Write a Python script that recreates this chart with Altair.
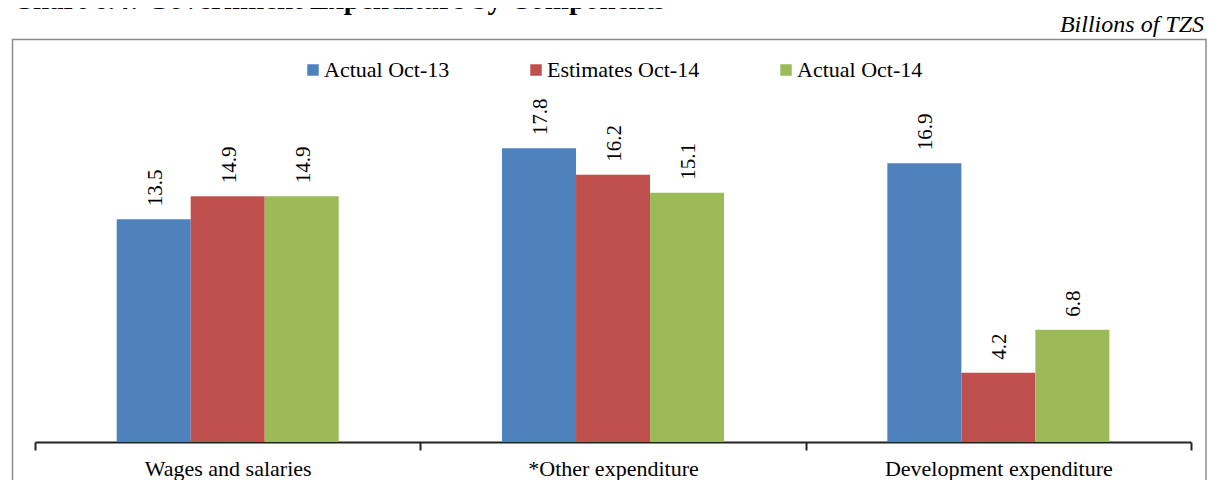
import altair as alt
import pandas as pd

categories = ["Wages and salaries", "*Other expenditure", "Development expenditure"]
series = ["Actual Oct-13", "Estimates Oct-14", "Actual Oct-14"]
actual_oct13 = [13.5, 17.8, 16.9]
estimates_oct14 = [14.9, 16.2, 4.2]
actual_oct14 = [14.9, 15.1, 6.8]
colors = ["#4F81BD", "#C0504D", "#9BBB59"]
legend_x = [267, 490, 740]

rows = []
for s, vals in zip(series, [actual_oct13, estimates_oct14, actual_oct14]):
    for c, v in zip(categories, vals):
        rows.append({"category": c, "series": s, "value": v})
df = pd.DataFrame(rows)

FONT = "Times New Roman, Liberation Serif, serif"

x_enc = alt.X(
    "category:N", sort=categories, title=None,
    scale=alt.Scale(domain=categories, paddingInner=0, paddingOuter=0),
    axis=alt.Axis(labelAngle=0, labelFont=FONT, labelFontSize=22, labelColor="#000",
                  domainColor="#222", domainWidth=2, tickColor="#222", tickWidth=2,
                  tickSize=8, tickBand="extent", labelPadding=8, grid=False,
                  labelLimit=500),
)
xo_enc = alt.XOffset("series:N", sort=series,
                     scale=alt.Scale(domain=series, paddingInner=0, paddingOuter=0,
                                     range=[81.7, 303.7]))
y_enc = alt.Y("value:Q", scale=alt.Scale(domain=[0, 24]), axis=None)

base = alt.Chart(df).encode(x=x_enc, xOffset=xo_enc, y=y_enc)

layers = []
for s, c, lx in zip(series, colors, legend_x):
    layers.append(
        base.transform_filter(alt.datum.series == s).mark_bar().encode(
            color=alt.Color("series:N", scale=alt.Scale(domain=[s], range=[c]),
                            legend=alt.Legend(orient="none", legendX=lx, legendY=13,
                                              title=None, symbolType="square",
                                              symbolSize=132, symbolStrokeWidth=0,
                                              labelFont=FONT, labelFontSize=22,
                                              labelColor="#000", labelOffset=0,
                                              padding=0, labelLimit=400))
        )
    )

labels = base.mark_text(angle=270, align="left", baseline="middle", dx=13, dy=2,
                        font=FONT, fontSize=21, color="#000").encode(
    text=alt.Text("value:Q", format=".1f"))

frame_df = pd.DataFrame({"k": [0]})
frame = alt.Chart(frame_df).mark_rect(fill="transparent", stroke="#8c8c8c", strokeWidth=1.5).encode(
    x=alt.value(-22.5), x2=alt.value(1171), y=alt.value(-6.5), y2=alt.value(470))
unit = alt.Chart(frame_df).mark_text(align="right", baseline="alphabetic", font=FONT,
                                     fontSize=24, fontStyle="italic", color="#000").encode(
    x=alt.value(1169), y=alt.value(-14.5), text=alt.value("Billions of TZS"))
title = alt.Chart(frame_df).mark_text(align="left", baseline="alphabetic", font=FONT,
                                      fontSize=29, fontWeight="bold", color="#000").encode(
    x=alt.value(-23), y=alt.value(-37),
    text=alt.value("Chart 6.4: Government Expenditure by Components"))

chart = alt.layer(frame, *layers, labels, unit, title).resolve_scale(color="independent").properties(
    width=1156, height=396,
    autosize=alt.AutoSizeParams(type="none"),
    padding={"left": 27, "top": 38, "right": 16, "bottom": 38},
).configure_view(stroke=None)

chart.save("out.html", embed_options={"renderer": "svg", "actions": False})
